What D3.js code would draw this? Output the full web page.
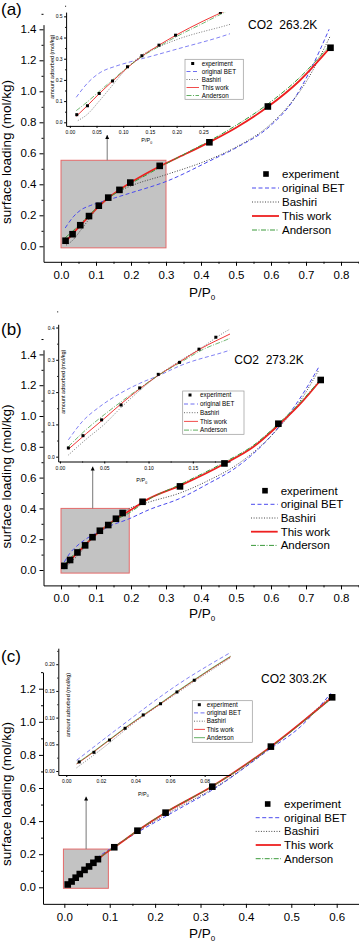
<!DOCTYPE html>
<html>
<head>
<meta charset="utf-8">
<title>CO2 isotherms</title>
<script src="https://cdnjs.cloudflare.com/ajax/libs/d3/7.8.5/d3.min.js"></script>
<style>
    body{margin:0;background:#fff}
    text{font-family:"Liberation Sans",Arial,sans-serif;fill:#000}
    .ticklabel{font-size:11.5px}
    .axislabel{font-size:13.5px}
    .legend{font-size:11.5px}
    .insettick{font-size:5px}
    .insetlabel{font-size:5.5px}
    .insetlegend{font-size:6.3px}
    .axis path,.axis line{stroke:#000;stroke-width:1;fill:none}
</style>
</head>
<body>
<script>
// ---- panel (a) CO2 263.2K ----
const expA_p = [0.013,0.033,0.055,0.08,0.108,0.135,0.167,0.198,0.282,0.424,0.591,0.77]
const expA_q = [0.036,0.078,0.136,0.195,0.262,0.314,0.364,0.411,0.519,0.671,0.902,1.281]
const workA = [[0.012,0.028],[0.033,0.079],[0.055,0.135],[0.08,0.194],[0.108,0.258],[0.135,0.312],[0.167,0.364],[0.198,0.41],[0.25,0.478],[0.3,0.536],[0.36,0.6],[0.424,0.672],[0.5,0.765],[0.591,0.9],[0.68,1.065],[0.77,1.285]]
const andersonA = [[0.012,0.055],[0.033,0.097],[0.057,0.15],[0.08,0.2],[0.108,0.26],[0.135,0.31],[0.167,0.358],[0.198,0.402],[0.25,0.468],[0.3,0.532],[0.36,0.604],[0.424,0.68],[0.5,0.78],[0.591,0.918],[0.68,1.085],[0.77,1.3]]
const betA = [[0.012,0.118],[0.035,0.19],[0.057,0.235],[0.085,0.264],[0.11,0.283],[0.15,0.31],[0.2,0.345],[0.3,0.418],[0.426,0.552],[0.5,0.635],[0.597,0.775],[0.66,0.93],[0.711,1.13],[0.766,1.4]]
const bashiriA = [[0.015,0.008],[0.032,0.036],[0.055,0.1],[0.075,0.16],[0.107,0.255],[0.138,0.322],[0.17,0.36],[0.2,0.39],[0.3,0.462],[0.424,0.56],[0.5,0.64],[0.6,0.79],[0.7,1.06],[0.77,1.36]]

// ---- panel (b) CO2 273.2K ----
const expB_p = [0.0095,0.026,0.047,0.069,0.09,0.111,0.135,0.157,0.176,0.233,0.34,0.467,0.621,0.742]
const expB_q = [0.027,0.065,0.114,0.16,0.213,0.255,0.292,0.333,0.37,0.443,0.543,0.692,0.95,1.234]
const workB = [[0.0095,0.023],[0.03,0.072],[0.05,0.118],[0.07,0.166],[0.09,0.21],[0.11,0.25],[0.135,0.293],[0.16,0.336],[0.192,0.38],[0.25,0.462],[0.34,0.548],[0.467,0.69],[0.55,0.8],[0.621,0.94],[0.68,1.07],[0.742,1.234]]
const andersonB = [[0.0095,0.031],[0.03,0.085],[0.05,0.13],[0.07,0.172],[0.09,0.212],[0.11,0.25],[0.135,0.29],[0.16,0.33],[0.192,0.367],[0.25,0.458],[0.34,0.555],[0.467,0.7],[0.55,0.81],[0.621,0.95],[0.68,1.08],[0.742,1.24]]
const betB = [[0.0095,0.052],[0.025,0.108],[0.045,0.155],[0.068,0.196],[0.09,0.227],[0.113,0.253],[0.136,0.282],[0.192,0.33],[0.25,0.39],[0.34,0.465],[0.42,0.56],[0.5,0.665],[0.6,0.87],[0.69,1.14],[0.737,1.32]]
const bashiriB = [[0.0095,0.005],[0.03,0.055],[0.05,0.1],[0.07,0.155],[0.09,0.205],[0.11,0.25],[0.135,0.296],[0.16,0.338],[0.19,0.392],[0.25,0.44],[0.34,0.5],[0.42,0.58],[0.5,0.68],[0.6,0.87],[0.69,1.12],[0.737,1.3]]

// ---- panel (c) CO2 303.2K ----
const expC_p = [0.0075,0.016,0.025,0.034,0.0445,0.0545,0.064,0.074,0.11,0.161,0.223,0.326,0.455,0.59]
const expC_q = [0.017,0.035,0.058,0.08,0.105,0.126,0.148,0.17,0.242,0.342,0.451,0.608,0.85,1.148]
const workC = [[0.006,0.013],[0.016,0.036],[0.025,0.058],[0.034,0.08],[0.0445,0.104],[0.0545,0.126],[0.064,0.148],[0.074,0.17],[0.095,0.214],[0.11,0.242],[0.161,0.342],[0.223,0.452],[0.326,0.61],[0.455,0.85],[0.59,1.148]]
const andersonC = [[0.006,0.014],[0.016,0.037],[0.025,0.059],[0.034,0.081],[0.0445,0.105],[0.0545,0.127],[0.064,0.149],[0.074,0.171],[0.095,0.215],[0.11,0.243],[0.161,0.343],[0.223,0.453],[0.326,0.61],[0.455,0.848],[0.59,1.145]]
const betC = [[0.006,0.02],[0.03,0.08],[0.065,0.163],[0.095,0.222],[0.16,0.33],[0.25,0.47],[0.33,0.595],[0.45,0.83],[0.52,0.97],[0.587,1.172]]
const bashiriC = [[0.006,0.006],[0.02,0.04],[0.04,0.092],[0.065,0.148],[0.095,0.212],[0.16,0.335],[0.25,0.48],[0.33,0.6],[0.45,0.835],[0.59,1.16]]

const legendNames = ["experiment","original BET","Bashiri","This work","Anderson"]
const mainXTicks = [0,0.1,0.2,0.3,0.4,0.5,0.6,0.7,0.8]
const mainYTicks = [0,0.2,0.4,0.6,0.8,1.0,1.2,1.4]

const styles = {
    bet:{stroke:"#4a4aee",dash:"4,2.5",w:1},
    bashiri:{stroke:"#444",dash:"1,1.6",w:1},
    work:{stroke:"#ee2020",dash:null,w:1.8},
    anderson:{stroke:"#3a9a3a",dash:"5,1.5,1,1.5",w:1}
}

const panels = [
    {tag:"(a)", tagY:15, co2:"CO2\u00a0 263.2K", co2X:248, co2Y:29,
     xd:[-0.05,0.855], xr:[43.5,360.25], yd:[-0.1,1.43], yr:[261.8,24.65],
     xticks:mainXTicks, yticks:mainYTicks, xlabY:296.7, ylabY:152,
     exp:[expA_p,expA_q], curves:{bet:betA,bashiri:bashiriA,work:workA,anderson:andersonA},
     box:[0,0.3,-0.01,0.555], arrow:[0.132,0.718],
     leg:{x0:252,x1:279,mx:266,tx:282,y:[174,188,202,216,230]},
     inset:{xd:[-0.007,0.3], xr:[66.1,230], yd:[-0.017,0.52], yr:[125.9,12.1],
            xticks:[0,0.05,0.1,0.15,0.2,0.25], yticks:[0,0.1,0.2,0.3,0.4,0.5], xf:".2f", yf:".1f",
            lab:[146.7,142], ylab:[51.7,66.7],
            leg:{bx:185,by:59.3,bw:58.3,bh:40,x0:186.5,x1:199,mx:192.7,tx:201.7,y:[63.5,71.5,79.5,87.5,95.5]}}},
    {tag:"(b)", tagY:335, co2:"CO2\u00a0 273.2K", co2X:234.3, co2Y:364,
     xd:[-0.05,0.855], xr:[43.5,360.25], yd:[-0.1,1.43], yr:[585.4,349.8],
     xticks:mainXTicks, yticks:mainYTicks, xlabY:618, ylabY:476.5,
     exp:[expB_p,expB_q], curves:{bet:betB,bashiri:bashiriB,work:workB,anderson:andersonB},
     box:[0,0.195,-0.02,0.40], arrow:[0.0906,0.672],
     leg:{x0:251,x1:277.7,mx:265,tx:280.7,y:[490.7,504.3,518,531.7,545.4]},
     inset:{xd:[-0.002,0.192], xr:[58.2,230], yd:[-0.015,0.41], yr:[461.5,324.3],
            xticks:[0,0.05,0.1,0.15], yticks:[0,0.1,0.2,0.3,0.4], xf:".2f", yf:".1f",
            lab:[141.7,482], ylab:[63.3,381.7],
            leg:{bx:182.7,by:391,bw:61.3,bh:43.3,x0:184,x1:198,mx:190,tx:200,y:[395,404,412.7,421.4,430.1]}}},
    {tag:"(c)", tagY:661.7, co2:"CO2 303.2K", co2X:261, co2Y:683.3,
     xd:[-0.047,0.65], xr:[43,359.4], yd:[-0.1,1.3], yr:[903.85,672.15],
     xticks:[0,0.1,0.2,0.3,0.4,0.5,0.6], yticks:[0,0.2,0.4,0.6,0.8,1.0,1.2], xlabY:938, ylabY:794,
     exp:[expC_p,expC_q], curves:{bet:betC,bashiri:bashiriC,work:workC,anderson:andersonC},
     box:[-0.002,0.097,-0.006,0.231], arrow:[0.048,0.548],
     leg:{x0:255.7,x1:281,mx:267.7,tx:284,y:[804,817.7,831.4,845,858.7]},
     inset:{xd:[-0.0046,0.095], xr:[58.3,230.6], yd:[-0.0075,0.23], yr:[775,648.2],
            xticks:[0,0.02,0.04,0.06,0.08], yticks:[0,0.05,0.1,0.15,0.2], xf:".2f", yf:".2f",
            lab:[143.3,795.5], ylab:[68.3,705], andersonSolid:true,
            leg:{bx:192.3,by:700.7,bw:60,bh:41.6,x0:194,x1:205,mx:199.3,tx:206.7,y:[704.7,712.9,721.2,729.4,737.7]}}}
]

const svg = d3.select("body").append("svg").attr("width",359).attr("height",944)
svg.append("defs").append("marker")
    .attr("id","head").attr("viewBox","0 0 10 10").attr("refX",10).attr("refY",5)
    .attr("markerWidth",4).attr("markerHeight",5).attr("orient","auto")
    .append("path").attr("d","M0,0L10,5L0,10z").attr("fill","#000")

function styleLine(sel,st,w){
    sel.attr("fill","none").attr("stroke",st.stroke).attr("stroke-width",w)
    if(st.dash) sel.attr("stroke-dasharray",st.dash)
    return sel
}

function addAxes(g,x,y,xticks,yticks,xf,yf,size,cls,minorX,minorY){
    let ax = g.append("g").attr("class","axis").attr("transform","translate(0,"+y.range()[0]+")")
        .call(d3.axisBottom(x).tickValues(xticks).tickFormat(d3.format(xf)).tickSize(size).tickSizeOuter(0))
    ax.selectAll("text").attr("class",cls).attr("fill","#000").attr("dy",null).attr("y",size+(cls=="ticklabel"?13:6))
    let ay = g.append("g").attr("class","axis").attr("transform","translate("+x.range()[0]+",0)")
        .call(d3.axisLeft(y).tickValues(yticks).tickFormat(d3.format(yf)).tickSize(size).tickSizeOuter(0))
    ay.selectAll("text").attr("class",cls).attr("fill","#000").attr("x",-(size+(cls=="ticklabel"?3:1.5)))
    g.append("g").attr("class","axis").attr("transform","translate(0,"+y.range()[0]+")")
        .call(d3.axisBottom(x).tickValues(minorX).tickFormat("").tickSize(size/2).tickSizeOuter(0))
        .select(".domain").remove()
    g.append("g").attr("class","axis").attr("transform","translate("+x.range()[0]+",0)")
        .call(d3.axisLeft(y).tickValues(minorY).tickFormat("").tickSize(size/2).tickSizeOuter(0))
        .select(".domain").remove()
}

function mids(t){ let m=[]; for(let i=0;i<t.length;i++){ let s=t[1]-t[0]; m.push(t[i]+s/2) } return m }

function drawPanel(pc){
    let g = svg.append("g")
    let x = d3.scaleLinear().domain(pc.xd).range(pc.xr)
    let y = d3.scaleLinear().domain(pc.yd).range(pc.yr)

    // zoom box and arrow
    g.append("rect")
        .attr("x",x(pc.box[0])).attr("y",y(pc.box[3]))
        .attr("width",x(pc.box[1])-x(pc.box[0])).attr("height",y(pc.box[2])-y(pc.box[3]))
        .attr("fill","#c3c3c3").attr("stroke","#e36a6a").attr("stroke-width",1)
    g.append("line")
        .attr("x1",x(pc.arrow[0])).attr("x2",x(pc.arrow[0]))
        .attr("y1",y(pc.box[3])).attr("y2",y(pc.arrow[1]))
        .attr("stroke","#777").attr("stroke-width",1).attr("marker-end","url(#head)")

    addAxes(g,x,y,pc.xticks,pc.yticks,".1f",".1f",4,"ticklabel",mids(pc.xticks),mids(pc.yticks))

    // labels
    g.append("text").attr("x",1).attr("y",pc.tagY).style("font-size","17px").text(pc.tag)
    g.append("text").attr("x",pc.co2X).attr("y",pc.co2Y).style("font-size","12px").text(pc.co2)
    let xl = g.append("text").attr("class","axislabel").attr("x",189).attr("y",pc.xlabY)
    xl.append("tspan").text("P/P")
    xl.append("tspan").attr("dy",3).style("font-size","8px").text("0")
    g.append("text").attr("class","axislabel").attr("text-anchor","middle")
        .attr("transform","translate(11,"+pc.ylabY+") rotate(-90)").text("surface loading (mol/kg)")

    // curves
    let line = d3.line().x(d=>x(d[0])).y(d=>y(d[1])).curve(d3.curveMonotoneX)
    for (let k of ["bet","bashiri","work","anderson"]){
        styleLine(g.append("path").attr("d",line(pc.curves[k])),styles[k],styles[k].w)
    }
    // experiment squares
    g.selectAll(".pt").data(d3.zip(pc.exp[0],pc.exp[1])).join("rect")
        .attr("x",d=>x(d[0])-3.3).attr("y",d=>y(d[1])-3.3).attr("width",6.6).attr("height",6.6).attr("fill","#000")

    // legend
    let lg = pc.leg
    legendNames.forEach((name,i)=>{
        let yy = lg.y[i]
        if(i==0){
            g.append("rect").attr("x",lg.mx-2.8).attr("y",yy-2.8).attr("width",5.6).attr("height",5.6).attr("fill","#000")
        }else{
            let k = ["bet","bashiri","work","anderson"][i-1]
            styleLine(g.append("line").attr("x1",lg.x0).attr("x2",lg.x1).attr("y1",yy).attr("y2",yy),styles[k],k=="work"?1.8:1)
        }
        g.append("text").attr("class","legend").attr("x",lg.tx).attr("y",yy+4).text(name)
    })

    drawInset(g,pc)
}

function drawInset(g,pc){
    let s = pc.inset
    let x = d3.scaleLinear().domain(s.xd).range(s.xr)
    let y = d3.scaleLinear().domain(s.yd).range(s.yr)
    addAxes(g,x,y,s.xticks,s.yticks,s.xf,s.yf,2,"insettick",mids(s.xticks),mids(s.yticks))

    let id = "clip"+pc.tag.replace(/\W/g,"")
    g.append("clipPath").attr("id",id).append("rect")
        .attr("x",s.xr[0]).attr("y",s.yr[1]).attr("width",s.xr[1]-s.xr[0]).attr("height",s.yr[0]-s.yr[1])
    let cg = g.append("g").attr("clip-path","url(#"+id+")")
    let line = d3.line().x(d=>x(d[0])).y(d=>y(d[1])).curve(d3.curveMonotoneX)
    for (let k of ["bet","bashiri","work","anderson"]){
        let st = Object.assign({},styles[k])
        if(k=="anderson" && s.andersonSolid) st.dash=null
        styleLine(cg.append("path").attr("d",line(pc.curves[k])),st,k=="work"?0.9:0.7)
    }
    let pts = d3.zip(pc.exp[0],pc.exp[1]).filter(d=>d[0]<=s.xd[1])
    cg.selectAll(".ipt").data(pts).join("rect")
        .attr("x",d=>x(d[0])-1.5).attr("y",d=>y(d[1])-1.5).attr("width",3).attr("height",3).attr("fill","#000")

    let xl = g.append("text").attr("class","insetlabel").attr("text-anchor","middle").attr("x",s.lab[0]).attr("y",s.lab[1])
    xl.append("tspan").text("P/P")
    xl.append("tspan").attr("dy",1.5).style("font-size","3.5px").text("0")
    g.append("text").attr("class","insetlabel").attr("text-anchor","middle")
        .attr("transform","translate("+(s.ylab[0]+2)+","+s.ylab[1]+") rotate(-90)").text("amount adsorbed (mol/kg)")

    let lg = s.leg
    g.append("rect").attr("x",lg.bx).attr("y",lg.by).attr("width",lg.bw).attr("height",lg.bh)
        .attr("fill","#fff").attr("stroke","#999").attr("stroke-width",0.7)
    legendNames.forEach((name,i)=>{
        let yy = lg.y[i]
        if(i==0){
            g.append("rect").attr("x",lg.mx-1.5).attr("y",yy-1.5).attr("width",3).attr("height",3).attr("fill","#000")
        }else{
            let k = ["bet","bashiri","work","anderson"][i-1]
            let st = Object.assign({},styles[k])
            if(k=="anderson" && s.andersonSolid) st.dash=null
            styleLine(g.append("line").attr("x1",lg.x0).attr("x2",lg.x1).attr("y1",yy).attr("y2",yy),st,0.8)
        }
        g.append("text").attr("class","insetlegend").attr("x",lg.tx).attr("y",yy+2.2).text(name)
    })
}

panels.forEach(drawPanel)
</script>
</body>
</html>
